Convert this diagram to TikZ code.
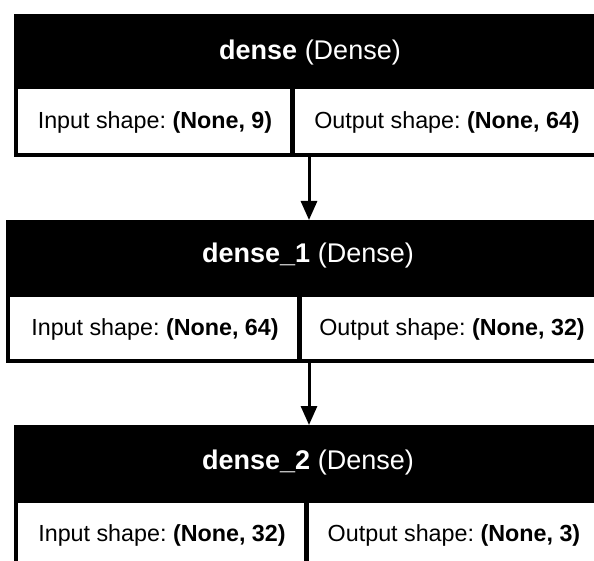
\documentclass[tikz,border=0pt]{standalone}
\usepackage{fontspec}
\setmainfont{Liberation Sans}
\usetikzlibrary{arrows.meta}
\frenchspacing

\tikzset{
  hdrtext/.style={text=white, font=\fontsize{27}{30}\selectfont, anchor=base, inner sep=0pt},
  celltext/.style={text=black, font=\fontsize{23.3}{26}\selectfont, anchor=base, inner sep=0pt},
  flow/.style={line width=3pt, -{Triangle[length=19pt,width=16pt]}},
}

\begin{document}
\begin{tikzpicture}[x=1pt, y=-1pt]
    \useasboundingbox (0,0) rectangle (594,561);
    \clip (0,0) rectangle (594,561);

    % Layer: dense
    \fill[black] (14,14) rectangle (620,157);
    \fill[white] (18,89) rectangle (290,153);
    \fill[white] (295,89) rectangle (620,153);
    \node[hdrtext] (h0) at (310,60) {\textbf{dense} (Dense)};
    \node[celltext] (in0) at (155,129) {Input shape: \textbf{(None, 9)}};
    \node[celltext] (out0) at (447,129) {Output shape: \textbf{(None, 64)}};

    % Layer: dense_1
    \fill[black] (6,220) rectangle (620,363);
    \fill[white] (10,297) rectangle (297,359);
    \fill[white] (302,297) rectangle (620,359);
    \node[hdrtext] (h1) at (308,263) {\textbf{dense\_1} (Dense)};
    \node[celltext] (in1) at (155,335) {Input shape: \textbf{(None, 64)}};
    \node[celltext] (out1) at (452,335) {Output shape: \textbf{(None, 32)}};

    % Layer: dense_2
    \fill[black] (14,425) rectangle (620,620);
    \fill[white] (18,503) rectangle (304,620);
    \fill[white] (309,503) rectangle (620,620);
    \node[hdrtext] (h2) at (308,469) {\textbf{dense\_2} (Dense)};
    \node[celltext] (in2) at (162,541) {Input shape: \textbf{(None, 32)}};
    \node[celltext] (out2) at (454,541) {Output shape: \textbf{(None, 3)}};

    % Connections
    \coordinate (b0) at (309,157);
    \coordinate (t1) at (309,220);
    \coordinate (b1) at (309,363);
    \coordinate (t2) at (309,425);
    \draw[flow] (b0) -- (t1);
    \draw[flow] (b1) -- (t2);
\end{tikzpicture}
\end{document}
